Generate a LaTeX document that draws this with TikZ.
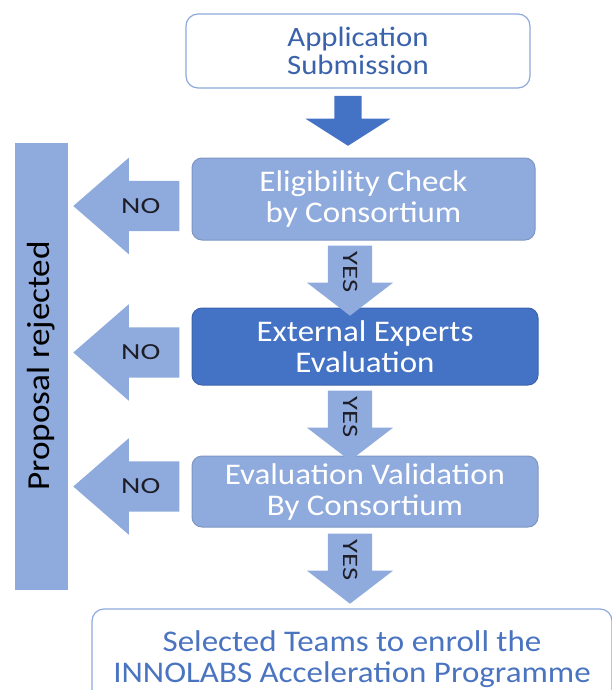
\documentclass[tikz,border=0pt]{standalone}
\usepackage{fontspec}
\setmainfont{Carlito}[FakeStretch=1.1]
\newfontfamily\tagfont{Carlito}[FakeStretch=1.3]
\usepackage{tikz}
\usetikzlibrary{shapes.arrows, calc}
\definecolor{boxlight}{HTML}{8FAADC}
\definecolor{boxdark}{HTML}{4472C4}
\definecolor{boxline}{HTML}{8EA9DB}
\definecolor{textblue}{HTML}{3B63AB}
\definecolor{finalblue}{HTML}{4A74C0}
\definecolor{tagtext}{HTML}{1E1E28}

\tikzset{
    whitebox/.style={draw=boxline, line width=1.2pt, fill=white, rounded corners=12pt, align=center, inner sep=0pt},
    lightbox/.style={draw=boxlight!88!black, line width=1pt, fill=boxlight, rounded corners=10pt, text=white, align=center, inner sep=0pt, font=\fontsize{30}{31}\selectfont},
    darkbox/.style={lightbox, draw=boxdark!88!black, fill=boxdark},
    downarrow/.style={single arrow, fill=boxdark, rotate=-90, inner sep=0pt, text height=13.5pt, text depth=13.5pt, minimum height=50pt, minimum width=85pt, single arrow head extend=29pt, single arrow tip angle=115},
    yesarrow/.style={single arrow, fill=boxlight, rotate=-90, inner sep=0pt, text height=29pt, text depth=15pt, minimum height=70pt, minimum width=86pt, single arrow head extend=21pt, single arrow tip angle=105, text=tagtext, font=\tagfont\fontsize{22}{22}\selectfont},
    noarrow/.style={single arrow, fill=boxlight, shape border rotate=180, inner sep=0pt, text height=32pt, text depth=18pt, minimum height=106pt, minimum width=96pt, single arrow head extend=23pt, single arrow tip angle=82, text=tagtext, font=\tagfont\fontsize{23}{23}\selectfont},
    rejectbar/.style={fill=boxlight, rotate=90, inner sep=0pt, minimum width=447pt, minimum height=53pt, text=black, font=\fontsize{32}{32}\selectfont}
}

\begin{document}
\begin{tikzpicture}[x=1pt, y=-1pt]
    \useasboundingbox (0,0) rectangle (612,690);
    \clip (0,0) rectangle (612,690);

    % Steps of the selection
    \node[whitebox, minimum width=344pt, minimum height=74pt, text=textblue, font=\fontsize{28}{28}\selectfont] (app) at (358,51) {Application\\Submission};
    \node[lightbox, minimum width=343pt, minimum height=82pt] (elig) at (363.5,199) {Eligibility Check\\by Consortium};
    \node[darkbox, minimum width=346pt, minimum height=77pt] (ext) at (365,346.5) {External Experts\\Evaluation};
    \node[lightbox, minimum width=346pt, minimum height=71pt] (val) at (365,491.5) {Evaluation Validation\\By Consortium};
    \node[whitebox, minimum width=520pt, minimum height=100pt, text=finalblue, font=\fontsize{30}{31}\selectfont] (final) at (352,659) {Selected Teams to enroll the\\INNOLABS Acceleration Programme};

    % Rejection bar
    \node[rejectbar] (reject) at (41.5,366) {Proposal rejected};

    % Down arrows
    \node[downarrow, anchor=tail] (submit) at ([xshift=-10pt, yshift=-7pt]app.south) {};
    \node[yesarrow, anchor=tail] (yes1) at ([xshift=-13.5pt, yshift=-5pt]elig.south) {YES};
    \node[yesarrow, anchor=tail] (yes2) at ([xshift=-15pt, yshift=-5pt]ext.south) {YES};
    \node[yesarrow, anchor=tail] (yes3) at ([xshift=-15pt, yshift=-6pt]val.south) {YES};

    % Left arrows
    \node[noarrow, anchor=tail] (no1) at ([xshift=-12pt, yshift=-7pt]elig.west) {NO};
    \node[noarrow, anchor=tail] (no2) at ([xshift=-12pt, yshift=-6pt]ext.west) {NO};
    \node[noarrow, anchor=tail] (no3) at ([xshift=-12pt, yshift=5pt]val.west) {NO};
\end{tikzpicture}
\end{document}
